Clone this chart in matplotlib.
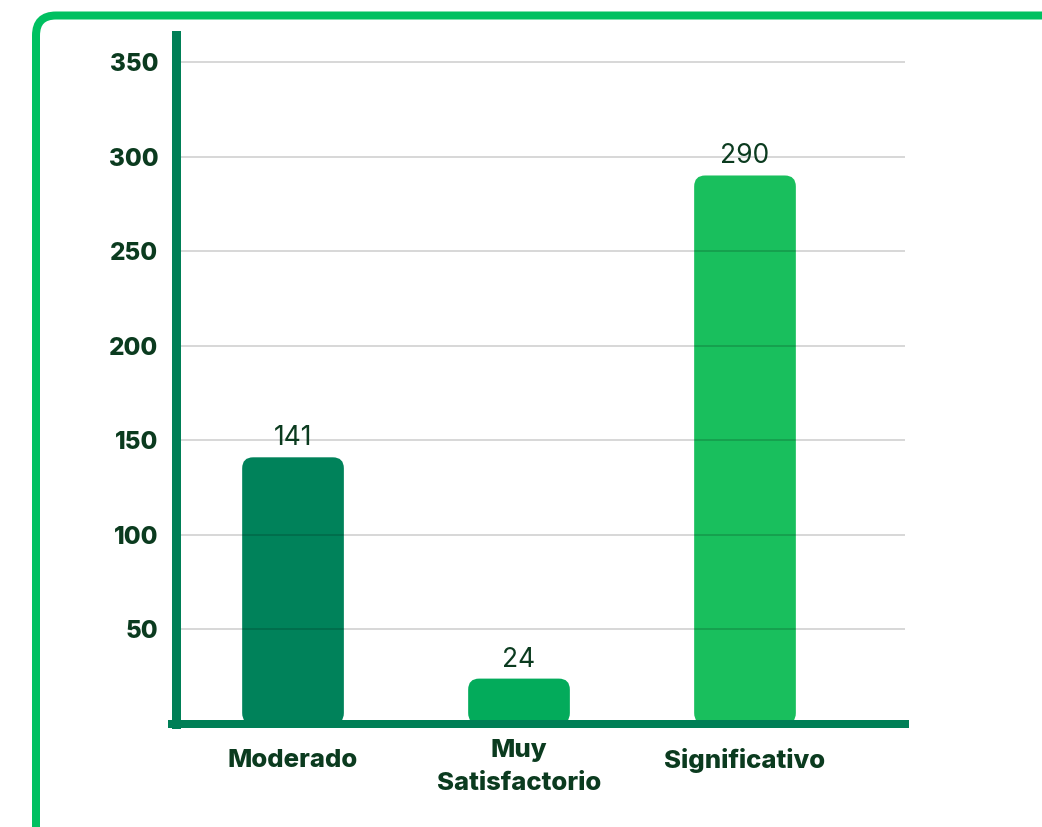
import matplotlib
matplotlib.use("Agg")
import matplotlib.pyplot as plt
from matplotlib.patches import FancyBboxPatch
from matplotlib.transforms import IdentityTransform, ScaledTranslation

# ---- data ----
categories = ["Moderado", "Muy\nSatisfactorio", "Significativo"]
values = [141, 24, 290]
bar_colors = ["#00825A", "#03AB5B", "#19BF5D"]
y_ticks = [50, 100, 150, 200, 250, 300, 350]

TEXT = "#0B3B1F"
AXIS = "#007F56"
FRAME = "#00C061"

plt.rcParams["font.family"] = ["Inter", "DejaVu Sans"]

W, H = 1042, 827
fig = plt.figure(figsize=(W / 100, H / 100), dpi=100)

# axes geometry (pixels from top-left)
ax_left, ax_right = 175.5, 905
ax_top, ax_bottom = 35, 724
ax = fig.add_axes([ax_left / W, 1 - ax_bottom / H,
                   (ax_right - ax_left) / W, (ax_bottom - ax_top) / H])

# frame (rounded border, partly off canvas)
frame = FancyBboxPatch((36, -60), 1200, (H - 15.5) + 60,
                       boxstyle="round,pad=0,rounding_size=20",
                       transform=IdentityTransform(), facecolor="none",
                       edgecolor=FRAME, linewidth=8 * 72 / 100, zorder=0)
fig.patches.append(frame)

x = list(range(len(categories)))
bw = 0.45
bars = ax.bar(x, values, width=bw, color=bar_colors)

xlim = (-0.52, 2.0 + (ax_right - 745) / 226)
ylim = (0, 350 * (ax_bottom - ax_top) / (ax_bottom - 62))
ax.set_xlim(*xlim)
ax.set_ylim(*ylim)

# replace bars with rounded versions
px_per_x = (ax_right - ax_left) / (xlim[1] - xlim[0])
px_per_y = (ax_bottom - ax_top) / (ylim[1] - ylim[0])
aspect = px_per_x / px_per_y
r_px = 11
for b, c in zip(bars, bar_colors):
    b.set_visible(False)
    bx, by = b.get_x(), b.get_y()
    bwid, bh = b.get_width(), b.get_height()
    p = FancyBboxPatch((bx, by), bwid, bh,
                       boxstyle=f"round,pad=0,rounding_size={r_px / px_per_x}",
                       mutation_aspect=aspect, facecolor=c, edgecolor="none",
                       zorder=1)
    ax.add_patch(p)
    ax.text(bx + bwid / 2, by + bh + 6 / px_per_y, f"{int(b.get_height())}",
            ha="center", va="bottom", fontsize=19, color=TEXT, zorder=4)

# grid
ax.set_yticks(y_ticks)
ax.yaxis.grid(True, color="black", alpha=0.2, linewidth=1.1, zorder=2)
ax.set_axisbelow(False)
for gl in ax.get_ygridlines():
    gl.set_zorder(2)

# spines
for s in ["top", "right"]:
    ax.spines[s].set_visible(False)
ax.spines["left"].set_color(AXIS)
ax.spines["left"].set_linewidth(9 * 72 / 100)
ax.spines["bottom"].set_color(AXIS)
ax.spines["bottom"].set_linewidth(8 * 72 / 100)
ax.spines["bottom"].set_zorder(3)
ax.spines["left"].set_zorder(3)
ax.spines["bottom"].set_bounds(xlim[0] - 3 / px_per_x, xlim[1])

ax.tick_params(axis="y", length=0, pad=12.5, labelsize=17.5, labelcolor=TEXT)
for lab in ax.get_yticklabels():
    lab.set_fontweight("heavy")

ax.set_xticks(x)
ax.set_xticklabels(categories, fontsize=18.5, fontweight="heavy", color=TEXT,
                   linespacing=1.55)
ax.tick_params(axis="x", length=0, pad=26)
for lab in ax.get_xticklabels():
    lab.set_verticalalignment("center")
    if "\n" in lab.get_text():
        lab.set_transform(lab.get_transform()
                          + ScaledTranslation(0, -7 / 100, fig.dpi_scale_trans))

fig.savefig("out.png", dpi=100, facecolor="white")
